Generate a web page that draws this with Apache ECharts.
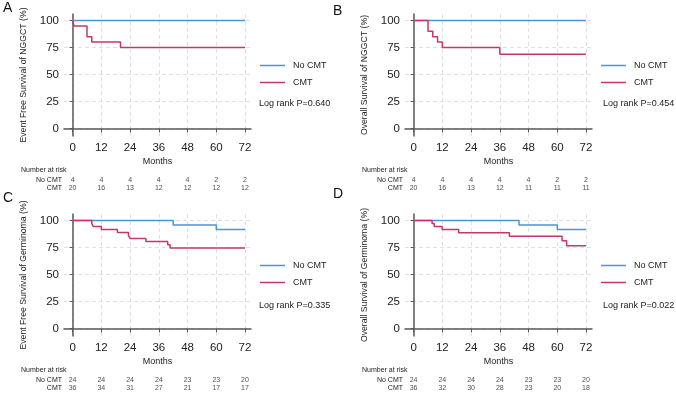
<!DOCTYPE html>
<html>
<head>
<meta charset="utf-8">
<script src="https://cdn.jsdelivr.net/npm/echarts@6/dist/echarts.min.js"></script>
<style>
  html, body { margin: 0; background: #fff; }
  #chart { width: 676px; height: 394px; }
</style>
</head>
<body>
<div id="chart"></div>
<script>
// ticks
const monthTicks = [0, 12, 24, 36, 48, 60, 72]
const survTicks = [0, 25, 50, 75, 100]
const groups = ['No CMT', 'CMT']

// A - EFS NGGCT
const aNoT = [0, 72]
const aNoS = [100, 100]
const aCmtT = [0, 0.6, 6, 8, 20, 72]
const aCmtS = [100, 95, 85, 80, 75, 75]
const aRiskNo = [4, 4, 4, 4, 4, 2, 2]
const aRiskCmt = [20, 16, 13, 12, 12, 12, 12]

// B - OS NGGCT
const bNoT = [0, 72]
const bNoS = [100, 100]
const bCmtT = [0, 6, 8, 10, 12, 36, 72]
const bCmtS = [100, 90, 85, 80, 75, 68.75, 68.75]
const bRiskNo = [4, 4, 4, 4, 4, 2, 2]
const bRiskCmt = [20, 16, 13, 12, 11, 11, 11]

// C - EFS germinoma
const cNoT = [0, 42, 60, 72]
const cNoS = [100, 95.8, 91.7, 91.7]
const cCmtT = [0, 8, 8.6, 12, 18.7, 23.3, 24, 30.6, 39.7, 40.7, 72]
const cCmtS = [100, 97.2, 94.4, 91.7, 88.9, 86.1, 83.3, 80.5, 77.6, 74.4, 74.4]
const cRiskNo = [24, 24, 24, 24, 23, 23, 20]
const cRiskCmt = [36, 34, 31, 27, 21, 17, 17]

// D - OS germinoma
const dNoT = [0, 44, 60, 72]
const dNoS = [100, 95.8, 91.7, 91.7]
const dCmtT = [0, 7.7, 8.6, 11.9, 18.8, 40, 62, 63.9, 72]
const dCmtS = [100, 97.2, 94.4, 91.7, 88.6, 85.5, 81.2, 76.7, 76.7]
const dRiskNo = [24, 24, 24, 24, 23, 23, 20]
const dRiskCmt = [36, 32, 30, 28, 23, 20, 18]

const panels = [
  { letter: 'A', yName: 'Event Free Survival of NGGCT (%)', p: 'Log rank P=0.640',
    noT: aNoT, noS: aNoS, cmtT: aCmtT, cmtS: aCmtS, riskNo: aRiskNo, riskCmt: aRiskCmt, dx: 0, dy: 0 },
  { letter: 'B', yName: 'Overall Survival of NGGCT (%)', p: 'Log rank P=0.454',
    noT: bNoT, noS: bNoS, cmtT: bCmtT, cmtS: bCmtS, riskNo: bRiskNo, riskCmt: bRiskCmt, dx: 341, dy: 0 },
  { letter: 'C', yName: 'Event Free Survival of Germinoma (%)', p: 'Log rank P=0.335',
    noT: cNoT, noS: cNoS, cmtT: cCmtT, cmtS: cCmtS, riskNo: cRiskNo, riskCmt: cRiskCmt, dx: 0, dy: 200 },
  { letter: 'D', yName: 'Overall Survival of Germinoma (%)', p: 'Log rank P=0.022',
    noT: dNoT, noS: dNoS, cmtT: dCmtT, cmtS: dCmtS, riskNo: dRiskNo, riskCmt: dRiskCmt, dx: 341, dy: 200 }
]

const FONT = '"Liberation Sans", Arial, sans-serif'
const BLUE = '#4b93dc'
const PINK = '#c8346c'
const AXIS = '#5a5a5a'
const X_MIN = -3.6, X_MAX = 74.5, Y_MIN = -7, Y_MAX = 106
const GW = 187, GH = 122

const chart = echarts.init(document.getElementById('chart'), null, { renderer: 'canvas' })

const grid = []
const xAxis = []
const yAxis = []
const series = []
const legend = []
const graphic = []

const dashed = { show: true, lineStyle: { color: '#e0e0e0', type: [4, 3], width: 1 } }
const pxX = GW / (X_MAX - X_MIN)
const pxY = GH / (Y_MAX - Y_MIN)

function addGrid (g, xa, ya) {
  const gi = grid.length
  grid.push(Object.assign({ containLabel: false, outerBoundsMode: 'none' }, g))
  xAxis.push(Object.assign({ gridIndex: gi }, xa))
  yAxis.push(Object.assign({ gridIndex: gi }, ya))
  return gi
}

panels.forEach((pn) => {
  const left = 64 + pn.dx, top = 14 + pn.dy
  const hidden = { axisLine: { show: false }, axisTick: { show: false }, axisLabel: { show: false } }

  // vertical dashed lines (month ticks), full plot height
  addGrid({ left: left - X_MIN * pxX, top, width: 72 * pxX, height: GH },
    Object.assign({ type: 'value', min: 0, max: 72, interval: 12, splitLine: dashed }, hidden),
    Object.assign({ type: 'value', min: Y_MIN, max: Y_MAX, splitLine: { show: false } }, hidden))
  // horizontal dashed lines (survival ticks), full plot width
  addGrid({ left, top: top + (Y_MAX - 100) * pxY, width: GW, height: 100 * pxY },
    Object.assign({ type: 'value', min: X_MIN, max: X_MAX, splitLine: { show: false } }, hidden),
    Object.assign({ type: 'value', min: 0, max: 100, interval: 25, splitLine: dashed }, hidden))

  // plot grid
  const gi = addGrid({ left, top, width: GW, height: GH }, {
    type: 'value', min: X_MIN, max: X_MAX,
    name: 'Months', nameLocation: 'middle', nameGap: 21,
    nameTextStyle: { fontFamily: FONT, fontSize: 9, color: '#222' },
    axisLine: { lineStyle: { color: AXIS, width: 1.5 } },
    axisTick: { show: true, length: 4, customValues: monthTicks, lineStyle: { color: AXIS } },
    axisLabel: { customValues: monthTicks, margin: 6, fontFamily: FONT, fontSize: 11.5, color: '#222' },
    splitLine: { show: false }
  }, {
    type: 'value', min: Y_MIN, max: Y_MAX,
    name: pn.yName, nameLocation: 'middle', nameGap: 36,
    nameTextStyle: { fontFamily: FONT, fontSize: 8.7, color: '#222' },
    axisLine: { show: true, lineStyle: { color: AXIS, width: 1.5 } },
    axisTick: { show: true, length: 3, customValues: survTicks, lineStyle: { color: AXIS } },
    axisLabel: { customValues: survTicks, margin: 5, fontFamily: FONT, fontSize: 11.5, color: '#222' },
    splitLine: { show: false }
  })
  series.push({
    name: groups[0], type: 'line', step: 'end', xAxisIndex: gi, yAxisIndex: gi,
    symbol: 'none', color: BLUE, lineStyle: { color: BLUE, width: 1.5 },
    data: pn.noT.map((t, k) => [t, pn.noS[k]]), z: 3
  })
  series.push({
    name: groups[1], type: 'line', step: 'end', xAxisIndex: gi, yAxisIndex: gi,
    symbol: 'none', color: PINK, lineStyle: { color: PINK, width: 1.5 },
    data: pn.cmtT.map((t, k) => [t, pn.cmtS[k]]), z: 4
  })
  legend.push({
    data: groups, orient: 'vertical', left: 260 + pn.dx, top: 61 + pn.dy,
    padding: 0, itemGap: 8, itemWidth: 25, itemHeight: 1.5, icon: 'rect',
    selectedMode: false,
    textStyle: { fontFamily: FONT, fontSize: 9, color: '#222', padding: [0, 0, 0, 3] }
  })
  graphic.push({
    type: 'text', left: (pn.dx ? 603 : 259), top: 99 + pn.dy + (pn.dy ? 2 : 0),
    style: { text: pn.p, fontFamily: FONT, fontSize: 9, fill: '#222' }
  })
  graphic.push({
    type: 'text', left: (pn.dx ? 333 : 3), top: (pn.dy ? 191 : 1) + (pn.dx ? (pn.dy ? -4 : 3) : 0),
    style: { text: pn.letter, fontFamily: FONT, fontSize: 14, fill: '#111' }
  })
  graphic.push({
    type: 'text', left: (pn.dx ? 362 : 21), top: 167 + pn.dy,
    style: { text: 'Number at risk', fontFamily: FONT, fontSize: 7, fill: '#222' }
  })

  // risk table
  const ri = addGrid({ left, top: 176 + pn.dy, width: GW, height: 16 },
    { type: 'value', min: X_MIN, max: X_MAX, show: false },
    { type: 'category', data: ['CMT', 'No CMT'],
      axisLine: { show: false }, axisTick: { show: false },
      axisLabel: { interval: 0, margin: 2, fontFamily: FONT, fontSize: 7, color: '#222' } })
  const rows = [['No CMT', pn.riskNo], ['CMT', pn.riskCmt]]
  rows.forEach(([row, vals]) => {
    series.push({
      name: 'risk' + ri + row, type: 'scatter', xAxisIndex: ri, yAxisIndex: ri,
      symbolSize: 1, itemStyle: { color: 'rgba(0,0,0,0)' }, silent: true,
      label: { show: true, position: 'inside', formatter: p => p.value[2],
        fontFamily: FONT, fontSize: 7, color: '#222' },
      data: monthTicks.map((m, k) => [m, row, vals[k]])
    })
  })
})

chart.setOption({
  animation: false,
  backgroundColor: '#fff',
  textStyle: { fontFamily: FONT },
  grid, xAxis, yAxis, series, legend, graphic
})
</script>
</body>
</html>
